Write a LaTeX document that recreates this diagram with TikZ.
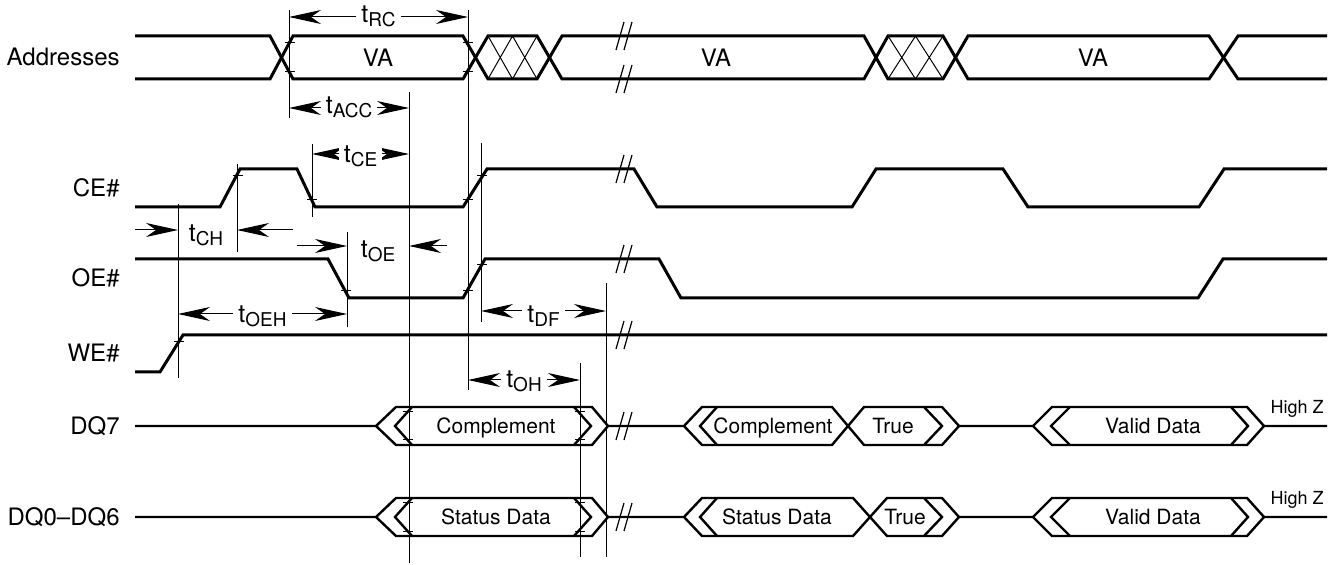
\documentclass[tikz,border=0pt]{standalone}
\usepackage{fontspec}
\setmainfont{TeX Gyre Heros}
\usepackage{tikz}
\usetikzlibrary{arrows.meta}
\newcommand{\tm}[1]{t\raisebox{-2pt}{\fontsize{9.5}{9.5}\selectfont #1}}
\tikzset{
  sig/.style={line width=1.5pt},
  bus/.style={line width=1.2pt},
  ref/.style={line width=0.5pt},
  dim/.style={line width=0.5pt, {Stealth[length=16pt,width=7pt,inset=5pt]}-{Stealth[length=16pt,width=7pt,inset=5pt]}},
  half/.style={line width=0.5pt, -{Stealth[length=16pt,width=7pt,inset=5pt]}},
  tlab/.style={fill=white, inner xsep=2.5pt, inner ysep=1pt, anchor=base, font=\fontsize{12.5}{14}\selectfont},
  sname/.style={anchor=base east, inner sep=0pt, font=\fontsize{12}{14}\selectfont},
  dlab/.style={anchor=base, inner sep=0pt, font=\fontsize{10.5}{12}\selectfont},
  hiz/.style={anchor=base east, inner sep=0pt, font=\fontsize{9}{10}\selectfont},
}
\begin{document}
\begin{tikzpicture}[x=0.5pt, y=-0.5pt]
  \useasboundingbox (0,0) rectangle (1336,565);
  % signal names
  \node[sname] (addr) at (120,66) {Addresses};
  \node[sname] (ce) at (120,196.5) {CE\#};
  \node[sname] (oe) at (120,287) {OE\#};
  \node[sname] (we) at (120,362) {WE\#};
  \node[sname] (dqs) at (120,434.5) {DQ7};
  \node[sname] (dqd) at (120,525.5) {DQ0–DQ6};

  % addresses
  \draw[sig] (135,36) -- (270,36) -- (293,79) -- (463,79) -- (488,36) -- (537,36) -- (562,79) -- (864,79) -- (888,36) -- (943,36) -- (968,79) -- (1209,79) -- (1238,36) -- (1327,36);
  \draw[sig] (135,79) -- (270,79) -- (293,36) -- (463,36) -- (488,79) -- (537,79) -- (562,36) -- (864,36) -- (888,79) -- (943,79) -- (968,36) -- (1209,36) -- (1238,79) -- (1327,79);
  \foreach \a/\b in {488/537, 888/943}
    \draw[ref] (\a,36) -- ({(\a+\b)/2},79) -- (\b,36) (\a,79) -- ({(\a+\b)/2},36) -- (\b,79);
  \node[dlab, font=\fontsize{12}{14}\selectfont] (va1) at (378,66.5) {VA};
  \node[dlab, font=\fontsize{12}{14}\selectfont] (va2) at (716,66.5) {VA};
  \node[dlab, font=\fontsize{12}{14}\selectfont] (va3) at (1093,66.5) {VA};

  % control lines
  \draw[sig] (135,207) -- (220,207) -- (240,169) -- (297,169) -- (315,207) -- (463,207) -- (487,169) -- (634,169) -- (657,207) -- (852,207) -- (876,169) -- (1003,169) -- (1028,207) -- (1199,207) -- (1224,169) -- (1327,169);
  \draw[sig] (135,259) -- (328,259) -- (349,298) -- (463,298) -- (485,259) -- (659,259) -- (681,298) -- (1198,298) -- (1223,259) -- (1327,259);
  \draw[sig] (135,372) -- (160,372) -- (183,335) -- (1327,335);

  % data lines
  \foreach \yc/\la/\lax/\lb/\lbx/\ca/\cb in {426/Complement/773/True/893/832/864, 517/Status Data/777/True/905/853/887}{
    \draw[bus] (135,\yc) -- (376,\yc) -- (396,\yc-19) -- (592,\yc-19) -- (608,\yc) -- (684,\yc) -- (702,\yc-19) -- (\ca,\yc-19) -- (\cb,\yc+19) -- (942,\yc+19) -- (959,\yc) -- (1033,\yc) -- (1052,\yc-19) -- (1247,\yc-19) -- (1264,\yc) -- (1327,\yc);
    \draw[bus] (376,\yc) -- (396,\yc+19) -- (592,\yc+19) -- (608,\yc);
    \draw[bus] (684,\yc) -- (702,\yc+19) -- (\ca,\yc+19) -- (\cb,\yc-19) -- (942,\yc-19) -- (959,\yc);
    \draw[bus] (1033,\yc) -- (1052,\yc+19) -- (1247,\yc+19) -- (1264,\yc);
    \foreach \p/\q in {412/395, 574/591, 717/700, 924/942, 1070/1051, 1231/1248}
      \draw[bus] (\p,\yc-19) -- (\q,\yc) -- (\p,\yc+19);
    \node[dlab] at (\lax,\yc+7.5) {\la};
    \node[dlab] at (\lbx,\yc+7.5) {\lb};
    \node[dlab] at (1153,\yc+7.5) {Valid Data};
    \node[hiz] at (1324,\yc-12.5) {High Z};
  }
  \node[dlab] (cpl) at (496,433.5) {Complement};
  \node[dlab] (std) at (496,524.5) {Status Data};

  % breaks
  \foreach \y in {36,79,169,259,335,426,517}
    \draw[ref, line width=0.6pt] (616,\y+14) -- (624,\y-14) (624,\y+14) -- (632,\y-14);

  % reference lines and ticks
  \foreach \x/\ya/\yb in {178/204/378, 237/164/252, 289/10/118, 312/144/217, 347/232/327, 409/92/563, 468/10/390, 481/143/322, 580/363/557, 606/283/557}
    \draw[ref] (\x,\ya) -- (\x,\yb);
  \foreach \x/\y in {290/43, 290/72, 468/43, 468/72, 238/176, 312/200, 468/200, 482/176, 346/291, 468/291, 482/265, 179/342, 408/412, 408/440, 580/412, 580/440, 408/503, 408/531, 580/503, 580/531}
    \draw[ref] (\x-5,\y) -- (\x+5,\y);

  % timing
  \coordinate (rc1) at (289,17);   \coordinate (rc2) at (468,17);
  \coordinate (acc1) at (289,108); \coordinate (acc2) at (409,108);
  \coordinate (ce1) at (312,154);  \coordinate (ce2) at (409,154);
  \coordinate (oeh1) at (178,314); \coordinate (oeh2) at (347,314);
  \coordinate (df1) at (481,311);  \coordinate (df2) at (606,311);
  \coordinate (oh1) at (468,380);  \coordinate (oh2) at (580,380);
  \draw[dim] (rc1) -- node[tlab, yshift=-2.7pt] (trc) {\tm{RC}} (rc2);
  \draw[dim] (acc1) -- node[tlab, yshift=-2.8pt] (tacc) {\tm{ACC}} (acc2);
  \draw[dim] (ce1) -- node[tlab, yshift=-4.5pt] (tce) {\tm{CE}} (ce2);
  \draw[dim] (oeh1) -- node[tlab, yshift=-4.2pt] (toeh) {\tm{OEH}} (oeh2);
  \draw[dim] (df1) -- node[tlab, yshift=-6pt] (tdf) {\tm{DF}} (df2);
  \draw[dim] (oh1) -- node[tlab, yshift=-4pt] (toh) {\tm{OH}} (oh2);

  \node[tlab] (tch) at (206,241.5) {\tm{CH}};
  \coordinate (ch1) at (135,230); \coordinate (ch2) at (178,230);
  \coordinate (ch3) at (293,230); \coordinate (ch4) at (237,230);
  \draw[half] (ch1) -- (ch2);
  \draw[half] (ch3) -- (ch4);
  \node[tlab] (toe) at (378,258) {\tm{OE}};
  \coordinate (oe1) at (297,246); \coordinate (oe2) at (347,246);
  \coordinate (oe3) at (447,246); \coordinate (oe4) at (409,246);
  \draw[half] (oe1) -- (oe2);
  \draw[half] (oe3) -- (oe4);
\end{tikzpicture}
\end{document}
